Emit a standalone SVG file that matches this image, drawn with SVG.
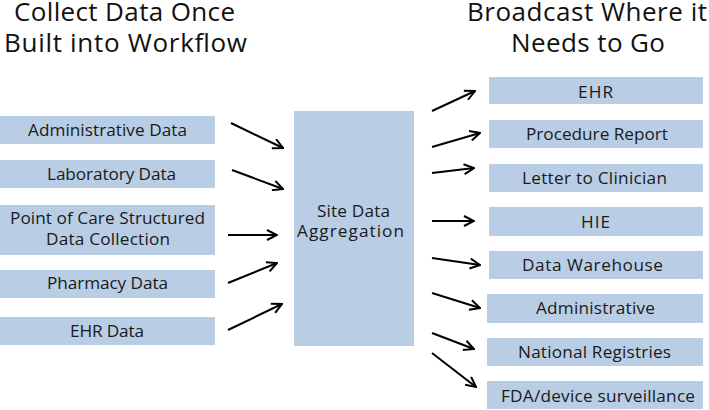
<svg xmlns="http://www.w3.org/2000/svg" width="709" height="410" viewBox="0 0 709 410">
<style>
.box{fill:#b9cde5}
.t{font-family:"Open Sans","Liberation Sans",sans-serif;font-size:17.2px;fill:#1a1a1a}
.h{font-family:"Open Sans","Liberation Sans",sans-serif;font-size:26px;fill:#111}
.a{stroke:#000;stroke-width:2;fill:none;marker-end:url(#ah)}
</style>
<defs>
<marker id="ah" viewBox="0 0 12 12" refX="11" refY="6" markerWidth="12" markerHeight="12" markerUnits="userSpaceOnUse" orient="auto">
<path d="M1,1 L11,6 L1,11" fill="none" stroke="#000" stroke-width="2"/>
</marker>
</defs>
<rect width="709" height="410" fill="#fff"/>
<g id="title-left">
<text class="h" x="14" y="21" textLength="221">Collect Data Once</text>
<text class="h" x="4" y="52" textLength="243">Built into Workflow</text>
</g>
<g id="title-right">
<text class="h" x="467" y="21" textLength="240">Broadcast Where it</text>
<text class="h" x="511" y="52" textLength="154">Needs to Go</text>
</g>
<g id="src-admin"><rect class="box" x="0" y="116" width="215" height="28"/><text class="t" x="28" y="136" textLength="159">Administrative Data</text></g>
<g id="src-lab"><rect class="box" x="0" y="160" width="215" height="28"/><text class="t" x="47" y="180" textLength="129">Laboratory Data</text></g>
<g id="src-poc"><rect class="box" x="0" y="205" width="215" height="50"/><text class="t" x="10" y="224" textLength="195">Point of Care Structured</text><text class="t" x="46" y="245" textLength="124">Data Collection</text></g>
<g id="src-pharm"><rect class="box" x="0" y="270" width="215" height="28"/><text class="t" x="47" y="289" textLength="121">Pharmacy Data</text></g>
<g id="src-ehr"><rect class="box" x="0" y="317" width="215" height="28"/><text class="t" x="70" y="337" textLength="74">EHR Data</text></g>
<g id="hub"><rect class="box" x="294" y="111" width="120" height="235"/><text class="t" x="317" y="217" textLength="73">Site Data</text><text class="t" x="297" y="237" textLength="107">Aggregation</text></g>
<g id="dst-ehr"><rect class="box" x="489" y="77" width="214" height="27"/><text class="t" x="578" y="98" textLength="35">EHR</text></g>
<g id="dst-proc"><rect class="box" x="489" y="120" width="214" height="28"/><text class="t" x="526" y="140" textLength="142">Procedure Report</text></g>
<g id="dst-letter"><rect class="box" x="489" y="164" width="214" height="28"/><text class="t" x="522" y="184" textLength="145">Letter to Clinician</text></g>
<g id="dst-hie"><rect class="box" x="489" y="207" width="214" height="29"/><text class="t" x="581" y="228" textLength="29">HIE</text></g>
<g id="dst-dw"><rect class="box" x="489" y="251" width="214" height="28"/><text class="t" x="522" y="271" textLength="141">Data Warehouse</text></g>
<g id="dst-admin"><rect class="box" x="487" y="294" width="216" height="29"/><text class="t" x="536" y="314" textLength="119">Administrative</text></g>
<g id="dst-nat"><rect class="box" x="487" y="338" width="216" height="28"/><text class="t" x="518" y="358" textLength="153">National Registries</text></g>
<g id="dst-fda"><rect class="box" x="487" y="381" width="216" height="28"/><text class="t" x="501" y="402" textLength="194">FDA/device surveillance</text></g>
<g id="connectors">
<line class="a" x1="231" y1="123" x2="283" y2="148"/>
<line class="a" x1="232" y1="170" x2="283" y2="189"/>
<line class="a" x1="228" y1="235" x2="277" y2="235"/>
<line class="a" x1="228" y1="283" x2="277" y2="263"/>
<line class="a" x1="228" y1="330" x2="282" y2="304"/>
<line class="a" x1="432" y1="111" x2="475" y2="91"/>
<line class="a" x1="432" y1="147" x2="480" y2="133"/>
<line class="a" x1="432" y1="173" x2="474" y2="168"/>
<line class="a" x1="432" y1="221" x2="474" y2="221"/>
<line class="a" x1="432" y1="258" x2="480" y2="265"/>
<line class="a" x1="432" y1="293" x2="480" y2="308"/>
<line class="a" x1="432" y1="333" x2="474" y2="349"/>
<line class="a" x1="432" y1="353" x2="476" y2="387"/>
</g>
</svg>
